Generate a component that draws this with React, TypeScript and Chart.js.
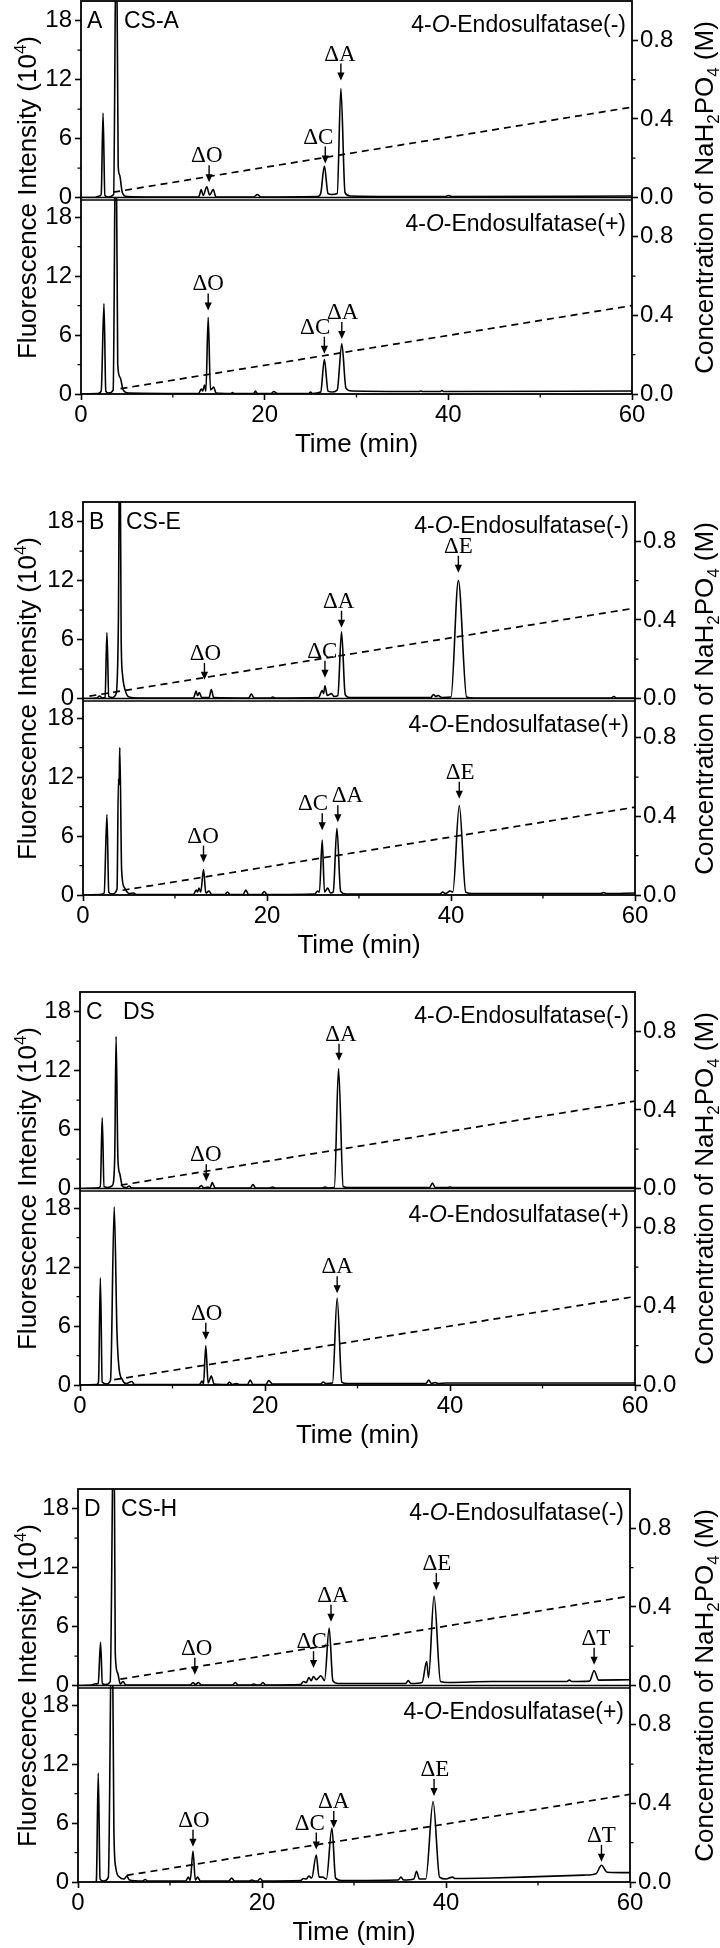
import React, { useEffect, useRef } from 'react';
import { Chart, registerables } from 'chart.js';
Chart.register(...registerables);

type Pt = [number, number];
type Anno = { label: string; t: number; v: number; tx: number };

// ---------- axis ticks ----------
const TIME_TICKS = [0, 20, 40, 60];
const TIME_MINOR = [10, 30, 50];
const INT_TICKS = [0, 6, 12, 18];
const INT_MINOR = [3, 9, 15];
const CONC_TICKS = [0, 0.4, 0.8];
const CONC_MINOR = [0.2, 0.6];

// ---------- panel labels ----------
const PANEL_LETTERS = ['A', 'B', 'C', 'D'];
const PANEL_SAMPLES = ['CS-A', 'CS-E', 'DS', 'CS-H'];

// ---------- chromatograms (time min, intensity 10^4) ----------
const A_MINUS: Pt[] = [[0,0],[1.5,0],[2.0,0.15],[2.2,0.3],[2.4,8.6],[2.6,0.2],[3.0,0.05],[3.55,0.3],[3.85,30],[4.05,3.2],[4.2,2.3],[4.5,0.5],[5.0,0.1],[8,0.05],[12.8,0.05],[13.1,0.8],[13.3,0.2],[13.7,1.1],[14.0,0.25],[14.4,0.8],[14.7,0.05],[18.8,0.05],[19.2,0.3],[19.6,0.05],[25.8,0.1],[26.1,0.4],[26.5,3.2],[26.9,0.4],[27.3,0.3],[27.9,0.4],[28.3,11.1],[28.75,0.5],[29.3,0.15],[35,0.1],[39.7,0.1],[40.0,0.2],[40.4,0.1],[60,0.15]];
const A_PLUS: Pt[] = [[0,0],[1.8,0.05],[2.2,0.3],[2.5,9.2],[2.7,0.3],[3.0,0.1],[3.5,0.4],[3.8,30],[4.0,3.0],[4.25,1.7],[4.6,0.4],[5.2,0.1],[12.8,0.05],[13.1,0.5],[13.25,0.3],[13.45,0.9],[13.6,0.3],[13.85,7.8],[14.1,0.4],[14.45,0.7],[14.7,0.1],[16.3,0.05],[16.5,0.15],[16.7,0.05],[18.8,0.05],[19.0,0.3],[19.2,0.05],[20.7,0.05],[21.0,0.25],[21.4,0.05],[24.8,0.05],[25.0,0.2],[25.2,0.05],[26.1,0.2],[26.5,3.5],[26.9,0.3],[27.4,0.2],[27.9,0.4],[28.4,5.1],[28.85,0.6],[29.5,0.3],[36.8,0.25],[37.0,0.3],[37.2,0.25],[39.1,0.25],[39.3,0.35],[39.5,0.25],[60,0.3]];
const B_MINUS: Pt[] = [[0,0],[1.5,0.05],[1.8,0.25],[2.1,0.05],[2.4,0.1],[2.6,6.7],[2.8,0.2],[3.2,0.1],[3.6,0.5],[3.85,8.2],[4.0,30],[4.15,6],[4.3,2.4],[4.6,0.8],[5.0,0.15],[6,0.05],[12.0,0.05],[12.3,0.75],[12.45,0.3],[12.65,0.6],[12.9,0.1],[13.7,0.1],[13.95,0.9],[14.2,0.1],[18.0,0.05],[18.3,0.45],[18.6,0.05],[20.4,0.05],[20.6,0.15],[20.9,0.05],[25.6,0.1],[26.0,0.8],[26.15,0.5],[26.3,1.3],[26.55,0.3],[27.0,0.5],[27.3,0.2],[27.7,0.3],[28.1,6.8],[28.5,0.4],[29.0,0.1],[37.8,0.1],[38.1,0.4],[38.35,0.2],[38.6,0.3],[39.0,0.1],[40.0,0.15],[40.8,12.0],[41.7,0.15],[42.5,0.05],[57.4,0.05],[57.7,0.2],[58.0,0.05],[60,0.05]];
const B_PLUS: Pt[] = [[0,0],[1.8,0.05],[2.3,0.2],[2.6,8.2],[2.8,0.3],[3.2,0.1],[3.7,0.6],[3.85,11.8],[3.92,11.2],[4.0,15.0],[4.2,2.5],[4.5,0.75],[5.0,0.15],[5.5,0.2],[5.8,0.05],[12.0,0.05],[12.3,0.5],[12.45,0.3],[12.6,0.7],[12.8,0.3],[13.1,2.6],[13.35,0.2],[13.7,0.4],[14.0,0.05],[15.4,0.05],[15.7,0.3],[16.0,0.05],[17.4,0.05],[17.7,0.5],[18.0,0.05],[19.4,0.05],[19.7,0.35],[20.0,0.05],[25.2,0.1],[25.5,0.4],[25.7,0.3],[26.0,5.6],[26.25,0.3],[26.6,0.7],[26.9,0.2],[27.2,0.3],[27.6,6.8],[28.0,0.4],[28.6,0.1],[38.8,0.1],[39.1,0.3],[39.4,0.15],[39.9,0.4],[40.2,0.3],[40.9,9.1],[41.6,0.3],[42.3,0.15],[56.3,0.15],[56.6,0.25],[56.9,0.15],[60,0.2]];
const C_MINUS: Pt[] = [[0,0],[1.8,0.05],[2.2,0.2],[2.4,7.2],[2.6,0.2],[3.0,0.1],[3.5,0.3],[3.75,3.0],[3.9,15.5],[4.1,3.0],[4.3,1.5],[4.6,0.2],[5.0,0.1],[5.3,0.25],[5.6,0.05],[12.8,0.05],[13.1,0.3],[13.4,0.05],[13.85,0.15],[14.05,0.05],[14.3,0.6],[14.6,0.05],[18.4,0.05],[18.7,0.4],[19.0,0.05],[20.5,0.05],[20.8,0.15],[21.1,0.05],[26.2,0.05],[26.5,0.15],[26.8,0.05],[27.5,0.1],[27.95,12.2],[28.45,0.2],[29.0,0.1],[37.8,0.1],[38.1,0.55],[38.4,0.1],[39.7,0.1],[40.0,0.15],[40.3,0.1],[60,0.1]];
const C_PLUS: Pt[] = [[0,0],[1.8,0.05],[2.0,0.3],[2.2,10.9],[2.4,0.3],[2.9,0.1],[3.3,0.5],[3.7,18.1],[4.0,5.3],[4.2,1.9],[4.6,0.5],[5.0,0.15],[5.6,0.35],[5.9,0.05],[12.9,0.05],[13.2,0.4],[13.35,0.1],[13.6,4.0],[13.85,0.2],[14.2,0.9],[14.5,0.1],[15.9,0.05],[16.15,0.3],[16.45,0.05],[16.9,0.15],[17.2,0.05],[18.1,0.05],[18.4,0.5],[18.7,0.05],[20.1,0.05],[20.4,0.45],[20.8,0.1],[26.0,0.1],[26.3,0.3],[26.6,0.15],[27.3,0.2],[27.8,8.85],[28.3,0.3],[28.9,0.15],[37.4,0.15],[37.7,0.5],[38.0,0.15],[38.4,0.25],[38.7,0.15],[39.6,0.2],[60,0.2]];
const D_MINUS: Pt[] = [[0,0],[1.5,0.05],[1.8,0.15],[2.2,0.2],[2.45,4.4],[2.65,0.2],[3.0,0.1],[3.5,0.4],[3.9,30],[4.05,3.3],[4.3,1.3],[4.6,0.15],[4.9,0.4],[5.2,0.05],[12.2,0.05],[12.5,0.3],[12.75,0.1],[13.1,0.3],[13.4,0.05],[16.8,0.05],[17.1,0.3],[17.4,0.05],[18.8,0.05],[19.1,0.15],[19.4,0.05],[19.8,0.05],[20.1,0.3],[20.4,0.05],[24.2,0.1],[24.5,0.4],[24.8,0.3],[25.1,0.8],[25.35,0.5],[25.6,0.9],[25.9,0.6],[26.4,1.0],[26.8,0.5],[27.3,5.85],[27.7,0.5],[28.3,0.2],[35.6,0.2],[35.9,0.5],[36.2,0.2],[37.4,0.3],[37.9,2.45],[38.1,0.8],[38.7,9.1],[39.4,0.4],[40.2,0.3],[45,0.4],[53.1,0.4],[53.4,0.55],[53.7,0.4],[55.6,0.45],[56.1,1.5],[56.6,0.55],[60,0.58]];
const D_PLUS: Pt[] = [[0,-0.1],[1.9,-0.1],[2.0,0.2],[2.2,11.1],[2.4,0.3],[2.8,0.1],[3.3,0.5],[3.7,30],[3.9,5.3],[4.1,1.5],[4.5,0.5],[5.0,0.3],[5.3,0.6],[5.6,0.2],[7.0,0.1],[7.3,0.25],[7.6,0.1],[11.7,0.1],[12.0,0.5],[12.2,0.15],[12.5,3.15],[12.75,0.2],[13.0,0.5],[13.3,0.1],[16.4,0.1],[16.7,0.4],[17.0,0.1],[18.6,0.1],[18.9,0.2],[19.2,0.1],[19.5,0.1],[19.8,0.35],[20.1,0.1],[24.2,0.15],[24.5,0.35],[24.8,0.3],[25.1,0.6],[25.4,0.4],[25.9,2.75],[26.2,0.5],[26.6,0.5],[27.0,0.3],[27.6,5.5],[28.0,0.4],[28.6,0.15],[34.8,0.2],[35.1,0.5],[35.4,0.2],[36.5,0.3],[36.8,1.1],[37.1,0.3],[37.8,0.3],[38.6,8.2],[39.3,0.5],[40.0,0.3],[40.7,0.5],[41.0,0.35],[45,0.4],[50,0.55],[55,0.7],[56.3,0.85],[56.9,1.7],[57.5,1.0],[60,0.95]];

// ---------- NaH2PO4 gradient (time min, M) ----------
const A_MINUS_GRAD: Pt[] = [[3.5, 0.027], [60, 0.46]];
const A_PLUS_GRAD: Pt[] = [[4.3, 0.027], [60, 0.45]];
const B_MINUS_GRAD: Pt[] = [[0.7, 0.012], [60, 0.46]];
const B_PLUS_GRAD: Pt[] = [[4.3, 0.024], [60, 0.447]];
const C_MINUS_GRAD: Pt[] = [[4.4, 0.017], [60, 0.445]];
const C_PLUS_GRAD: Pt[] = [[3.7, 0.027], [60, 0.45]];
const D_MINUS_GRAD: Pt[] = [[4.6, 0.032], [60, 0.455]];
const D_PLUS_GRAD: Pt[] = [[5.3, 0.034], [60, 0.446]];

// ---------- peak annotations (arrow time, arrow tip value, label time) ----------
const A_MINUS_PEAKS: Anno[] = [
  { label: 'ΔO', t: 13.95, v: 1.55, tx: 13.7 },
  { label: 'ΔC', t: 26.6, v: 3.45, tx: 25.85 },
  { label: 'ΔA', t: 28.3, v: 11.9, tx: 28.2 },
];
const A_PLUS_PEAKS: Anno[] = [
  { label: 'ΔO', t: 13.85, v: 8.5, tx: 13.85 },
  { label: 'ΔC', t: 26.5, v: 4.1, tx: 25.5 },
  { label: 'ΔA', t: 28.4, v: 5.6, tx: 28.5 },
];
const B_MINUS_PEAKS: Anno[] = [
  { label: 'ΔO', t: 13.2, v: 1.9, tx: 13.3 },
  { label: 'ΔC', t: 26.3, v: 2.1, tx: 26.0 },
  { label: 'ΔA', t: 28.1, v: 7.2, tx: 27.8 },
  { label: 'ΔE', t: 40.8, v: 12.8, tx: 40.8 },
];
const B_PLUS_PEAKS: Anno[] = [
  { label: 'ΔO', t: 13.1, v: 3.3, tx: 13.05 },
  { label: 'ΔC', t: 26.0, v: 6.6, tx: 25.0 },
  { label: 'ΔA', t: 27.7, v: 7.4, tx: 28.75 },
  { label: 'ΔE', t: 40.9, v: 9.8, tx: 41.0 },
];
const C_MINUS_PEAKS: Anno[] = [
  { label: 'ΔO', t: 13.65, v: 0.75, tx: 13.6 },
  { label: 'ΔA', t: 28.0, v: 13.0, tx: 28.2 },
];
const C_PLUS_PEAKS: Anno[] = [
  { label: 'ΔO', t: 13.6, v: 4.6, tx: 13.7 },
  { label: 'ΔA', t: 27.8, v: 9.35, tx: 27.8 },
];
const D_MINUS_PEAKS: Anno[] = [
  { label: 'ΔO', t: 12.7, v: 1.1, tx: 12.9 },
  { label: 'ΔC', t: 25.6, v: 1.77, tx: 25.4 },
  { label: 'ΔA', t: 27.5, v: 6.5, tx: 27.7 },
  { label: 'ΔE', t: 38.95, v: 9.7, tx: 39.0 },
  { label: 'ΔT', t: 56.1, v: 2.1, tx: 56.3 },
];
const D_PLUS_PEAKS: Anno[] = [
  { label: 'ΔO', t: 12.5, v: 3.6, tx: 12.6 },
  { label: 'ΔC', t: 25.9, v: 3.3, tx: 25.2 },
  { label: 'ΔA', t: 27.8, v: 5.5, tx: 27.8 },
  { label: 'ΔE', t: 38.7, v: 8.75, tx: 38.8 },
  { label: 'ΔT', t: 56.9, v: 2.05, tx: 56.9 },
];

// ---------- layout (page pixels) ----------
const PANEL_TOPS = [1, 502, 992, 1489];
const PANEL_LEFTS = [81, 83, 80, 78];
const PANEL_RIGHTS = [632, 635, 635, 630];
const PAD_T = 4;
const PLOT_H = 393;
const XAXIS_H = 72;
const CANVAS_H = PAD_T + PLOT_H + XAXIS_H;
const W = 720;

const SANS = '"Liberation Sans", Arial, Helvetica, sans-serif';
const SERIF = '"Liberation Serif", "Times New Roman", Times, serif';

interface PanelCfg {
  letter: string; sample: string;
  minus: Pt[]; plus: Pt[];
  minusGrad: Pt[]; plusGrad: Pt[];
  minusPeaks: Anno[]; plusPeaks: Anno[];
}

const PANELS: PanelCfg[] = [
  { letter: PANEL_LETTERS[0], sample: PANEL_SAMPLES[0], minus: A_MINUS, plus: A_PLUS, minusGrad: A_MINUS_GRAD, plusGrad: A_PLUS_GRAD, minusPeaks: A_MINUS_PEAKS, plusPeaks: A_PLUS_PEAKS },
  { letter: PANEL_LETTERS[1], sample: PANEL_SAMPLES[1], minus: B_MINUS, plus: B_PLUS, minusGrad: B_MINUS_GRAD, plusGrad: B_PLUS_GRAD, minusPeaks: B_MINUS_PEAKS, plusPeaks: B_PLUS_PEAKS },
  { letter: PANEL_LETTERS[2], sample: PANEL_SAMPLES[2], minus: C_MINUS, plus: C_PLUS, minusGrad: C_MINUS_GRAD, plusGrad: C_PLUS_GRAD, minusPeaks: C_MINUS_PEAKS, plusPeaks: C_PLUS_PEAKS },
  { letter: PANEL_LETTERS[3], sample: PANEL_SAMPLES[3], minus: D_MINUS, plus: D_PLUS, minusGrad: D_MINUS_GRAD, plusGrad: D_PLUS_GRAD, minusPeaks: D_MINUS_PEAKS, plusPeaks: D_PLUS_PEAKS },
];

type Seg = { s: string; font: string; dy: number };
function drawRich(ctx: CanvasRenderingContext2D, segs: Seg[], x: number, y: number, align: 'left' | 'center' | 'right') {
  let w = 0;
  for (const g of segs) { ctx.font = g.font; w += ctx.measureText(g.s).width; }
  let cx = align === 'left' ? x : align === 'center' ? x - w / 2 : x - w;
  ctx.textAlign = 'left';
  ctx.textBaseline = 'alphabetic';
  for (const g of segs) {
    ctx.font = g.font;
    ctx.fillText(g.s, cx, y + g.dy);
    cx += ctx.measureText(g.s).width;
  }
}

function toXY(pts: Pt[]) { return pts.map(([x, y]) => ({ x, y })); }

function makePlugin(cfg: PanelCfg) {
  return {
    id: 'panelDecor',
    beforeDatasetDraw(chart: any, args: any) {
      const ds = chart.data.datasets[args.index];
      const ys = chart.scales[ds.yAxisID];
      const a = chart.chartArea;
      const ctx = chart.ctx;
      ctx.save();
      ctx.beginPath();
      ctx.rect(a.left, ys.top - 1, a.right - a.left, ys.bottom - ys.top + 2);
      ctx.clip();
    },
    afterDatasetDraw(chart: any) {
      chart.ctx.restore();
    },
    afterDraw(chart: any) {
      const ctx: CanvasRenderingContext2D = chart.ctx;
      const a = chart.chartArea;
      const xs = chart.scales.x, yT = chart.scales.yTop, yB = chart.scales.yBot;
      const rT = chart.scales.rTop, rB = chart.scales.rBot;
      ctx.save();
      ctx.strokeStyle = '#000';
      ctx.fillStyle = '#000';
      // frame
      ctx.lineWidth = 1.8;
      ctx.strokeRect(a.left, a.top, a.right - a.left, a.bottom - a.top);
      ctx.lineWidth = 1.5;
      ctx.beginPath();
      ctx.moveTo(a.left, yT.bottom); ctx.lineTo(a.right, yT.bottom);
      ctx.moveTo(a.left, yT.bottom + 2.4); ctx.lineTo(a.right, yT.bottom + 2.4);
      ctx.stroke();
      // minor ticks
      ctx.lineWidth = 1.3;
      ctx.beginPath();
      for (const s of [yT, yB]) for (const v of INT_MINOR) {
        const py = s.getPixelForValue(v); ctx.moveTo(a.left - 3.5, py); ctx.lineTo(a.left, py);
      }
      for (const s of [rT, rB]) for (const v of CONC_MINOR) {
        const py = s.getPixelForValue(v); ctx.moveTo(a.right, py); ctx.lineTo(a.right + 3.5, py);
      }
      for (const v of TIME_MINOR) {
        const px = xs.getPixelForValue(v); ctx.moveTo(px, a.bottom); ctx.lineTo(px, a.bottom + 3.5);
      }
      ctx.stroke();
      // panel labels
      ctx.font = `23px ${SANS}`;
      ctx.textAlign = 'left'; ctx.textBaseline = 'alphabetic';
      ctx.fillText(cfg.letter, a.left + 6, a.top + 27);
      ctx.fillText(cfg.sample, a.left + 43, a.top + 27);
      const endo = (sign: string): Seg[] => [
        { s: '4-', font: `23px ${SANS}`, dy: 0 },
        { s: 'O', font: `italic 23px ${SANS}`, dy: 0 },
        { s: `-Endosulfatase(${sign})`, font: `23px ${SANS}`, dy: 0 },
      ];
      drawRich(ctx, endo('-'), a.right - 6, yT.top + 31, 'right');
      drawRich(ctx, endo('+'), a.right - 6, yB.top + 33, 'right');
      // annotations
      const drawAnno = (ys: any, list: Anno[]) => {
        for (const p of list) {
          const px = xs.getPixelForValue(p.t);
          const tip = ys.getPixelForValue(p.v);
          const top = tip - 17;
          ctx.lineWidth = 1.4;
          ctx.beginPath(); ctx.moveTo(px, top); ctx.lineTo(px, tip - 5); ctx.stroke();
          ctx.beginPath(); ctx.moveTo(px - 3.6, tip - 8); ctx.lineTo(px + 3.6, tip - 8); ctx.lineTo(px, tip); ctx.closePath(); ctx.fill();
          ctx.font = `23px ${SERIF}`;
          ctx.textAlign = 'center'; ctx.textBaseline = 'alphabetic';
          ctx.fillText(p.label, xs.getPixelForValue(p.tx), top - 3);
        }
      };
      drawAnno(yT, cfg.minusPeaks);
      drawAnno(yB, cfg.plusPeaks);
      // axis titles
      const cy = (a.top + a.bottom) / 2;
      const big = `26px ${SANS}`, small = `17px ${SANS}`;
      ctx.save();
      ctx.translate(36, cy); ctx.rotate(-Math.PI / 2);
      drawRich(ctx, [
        { s: 'Fluorescence Intensity (10', font: big, dy: 0 },
        { s: '4', font: small, dy: -10 },
        { s: ')', font: big, dy: 0 },
      ], 0, 0, 'center');
      ctx.restore();
      ctx.save();
      ctx.translate(713, cy); ctx.rotate(-Math.PI / 2);
      drawRich(ctx, [
        { s: 'Concentration of NaH', font: big, dy: 0 },
        { s: '2', font: small, dy: 6 },
        { s: 'PO', font: big, dy: 0 },
        { s: '4', font: small, dy: 6 },
        { s: ' (M)', font: big, dy: 0 },
      ], 0, 0, 'center');
      ctx.restore();
      ctx.font = big; ctx.textAlign = 'center'; ctx.textBaseline = 'middle';
      ctx.fillText('Time (min)', (a.left + a.right) / 2, a.bottom + 51);
      ctx.restore();
    },
  };
}

function fixTicks(values: number[]) {
  return (s: any) => { s.ticks = values.map((value) => ({ value })); };
}

function Panel({ cfg, index }: { cfg: PanelCfg; index: number }) {
  const ref = useRef<HTMLCanvasElement>(null);
  useEffect(() => {
    const L = PANEL_LEFTS[index];
    const R = PANEL_RIGHTS[index];
    const tickFont = { family: SANS, size: 24 };
    const grid = { drawOnChartArea: false, drawTicks: true, tickLength: 6, tickWidth: 1.6, tickColor: '#000' };
    const yAxis = (stack: string, pos: 'left' | 'right', max: number, ticks: number[], width: number, fmt: (v: number) => string, pad: number) => ({
      type: 'linear' as const, position: pos, stack, stackWeight: 1, min: 0, max,
      grid, border: { display: false },
      ticks: { font: tickFont, color: '#000', padding: pad, autoSkip: false, callback: (v: any) => fmt(Number(v)) },
      afterBuildTicks: fixTicks(ticks),
      afterFit: (s: any) => { s.width = width; s.paddingTop = 0; s.paddingBottom = 0; s.paddingLeft = 0; s.paddingRight = 0; },
    });
    const chart = new Chart(ref.current!, {
      type: 'line',
      data: {
        datasets: [
          { data: toXY(cfg.minus), yAxisID: 'yTop', xAxisID: 'x', borderColor: '#000', borderWidth: 1.6, pointRadius: 0, cubicInterpolationMode: 'monotone', fill: false },
          { data: toXY(cfg.minusGrad), yAxisID: 'rTop', xAxisID: 'x', borderColor: '#000', borderWidth: 1.7, borderDash: [7, 5], pointRadius: 0, fill: false },
          { data: toXY(cfg.plus), yAxisID: 'yBot', xAxisID: 'x', borderColor: '#000', borderWidth: 1.6, pointRadius: 0, cubicInterpolationMode: 'monotone', fill: false },
          { data: toXY(cfg.plusGrad), yAxisID: 'rBot', xAxisID: 'x', borderColor: '#000', borderWidth: 1.7, borderDash: [7, 5], pointRadius: 0, fill: false },
        ] as any,
      },
      options: {
        animation: false,
        responsive: false,
        devicePixelRatio: 1,
        events: [],
        parsing: false as any,
        normalized: true,
        layout: { padding: { top: PAD_T, left: 0, right: 0, bottom: 0 }, autoPadding: false } as any,
        plugins: { legend: { display: false }, tooltip: { enabled: false }, title: { display: false } },
        scales: {
          x: {
            type: 'linear', position: 'bottom', min: 0, max: 60,
            grid, border: { display: false },
            ticks: { font: tickFont, color: '#000', padding: 1, autoSkip: false, maxRotation: 0, callback: (v: any) => String(v) },
            afterBuildTicks: fixTicks(TIME_TICKS),
            afterFit: (s: any) => { s.height = XAXIS_H; s.paddingLeft = 0; s.paddingRight = 0; s.paddingTop = 0; s.paddingBottom = 0; },
          },
          yBot: yAxis('L', 'left', 20, INT_TICKS, L, (v) => String(v), 3),
          yTop: yAxis('L', 'left', 20, INT_TICKS, L, (v) => String(v), 3),
          rTop: yAxis('R', 'right', 1, CONC_TICKS, W - R, (v) => v.toFixed(1), 2),
          rBot: yAxis('R', 'right', 1, CONC_TICKS, W - R, (v) => v.toFixed(1), 2),
        } as any,
      },
      plugins: [makePlugin(cfg) as any],
    });
    return () => chart.destroy();
  }, [cfg, index]);
  return (
    <canvas
      ref={ref}
      width={W}
      height={CANVAS_H}
      style={{ position: 'absolute', left: 0, top: PANEL_TOPS[index] - PAD_T, width: W, height: CANVAS_H }}
    />
  );
}

export default function App() {
  return (
    <div style={{ position: 'absolute', left: 0, top: 0, width: W, height: 1948, overflow: 'hidden', background: '#fff' }}>
      {PANELS.map((cfg, i) => <Panel key={i} cfg={cfg} index={i} />)}
    </div>
  );
}
